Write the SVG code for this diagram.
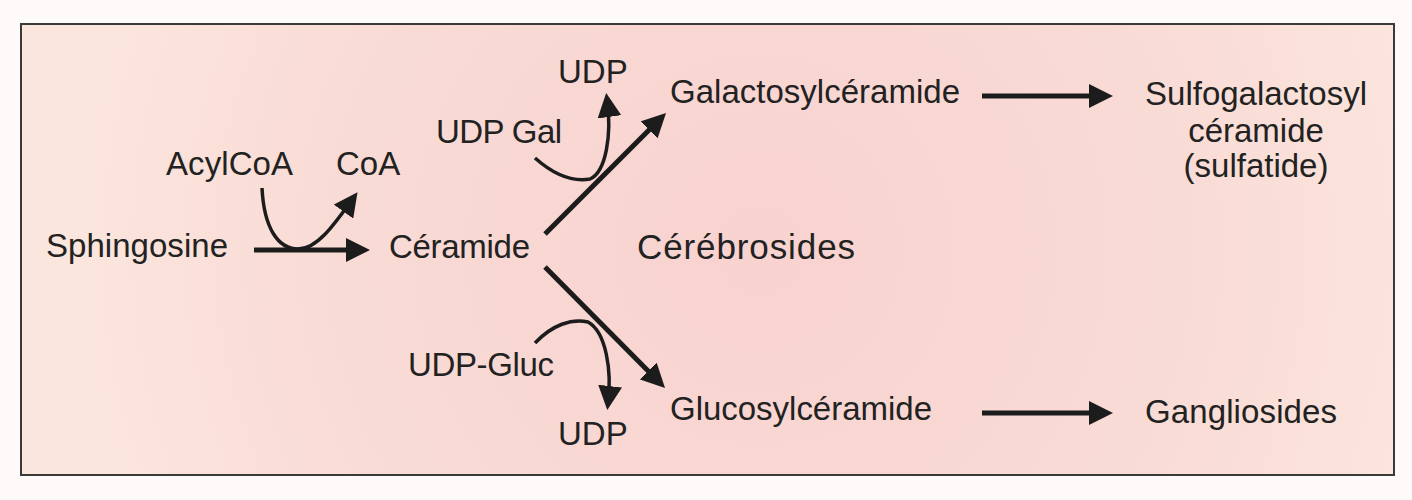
<svg xmlns="http://www.w3.org/2000/svg" width="1412" height="500" viewBox="0 0 1412 500">
<defs>
<radialGradient id="bg" cx="760" cy="250" r="700" gradientUnits="userSpaceOnUse">
<stop offset="0" stop-color="#f8d2cf"/>
<stop offset="0.6" stop-color="#f9dbd5"/>
<stop offset="1" stop-color="#fbe6dd"/>
</radialGradient>
<marker id="ah" viewBox="0 0 24 24" refX="18" refY="12" markerWidth="24" markerHeight="24" markerUnits="userSpaceOnUse" orient="auto">
<path d="M0,0 L24,12 L0,24 z" fill="#1c1c1c"/>
</marker>
</defs>
<style>
text{font-family:"Liberation Sans",Arial,Helvetica,sans-serif;font-size:33px;fill:#222}
.thick{fill:none;stroke:#1c1c1c;stroke-width:5}
.thin{fill:none;stroke:#1c1c1c;stroke-width:3.5}
.arr{marker-end:url(#ah)}
</style>
<rect x="0" y="0" width="1412" height="500" fill="#fefafa"/>
<rect x="21" y="24" width="1373" height="451" fill="url(#bg)" stroke="#3a3a3a" stroke-width="2"/>
<g id="connectors">
<path class="thick arr" d="M254,250 L364,250"/>
<path class="thin arr" d="M262,188 C264,228 278,249 298,249 C318,249 336,222 354,197"/>
<path class="thick arr" d="M545,234 L661.8,117.2"/>
<path class="thin arr" d="M535,158 C553,174 572,182 590,179 C606,172 612,135 607,99"/>
<path class="thick arr" d="M545,267 L660.8,383.8"/>
<path class="thin arr" d="M535,343 C552,325 572,318 588,322 C606,332 612,370 608,404"/>
<path class="thick arr" d="M982,96 L1107,96"/>
<path class="thick arr" d="M982,413 L1107,413"/>
</g>
<g id="sphingosine"><text x="46" y="257" textLength="182">Sphingosine</text></g>
<g id="acylcoa"><text x="166" y="175" textLength="127">AcylCoA</text></g>
<g id="coa"><text x="336" y="175">CoA</text></g>
<g id="ceramide"><text x="389" y="258" textLength="141">Céramide</text></g>
<g id="udp-top"><text x="558" y="83">UDP</text></g>
<g id="udp-gal"><text x="436" y="143" textLength="126">UDP Gal</text></g>
<g id="galactosylceramide"><text x="670" y="103" textLength="290">Galactosylcéramide</text></g>
<g id="cerebrosides"><text x="637" y="259" style="font-size:35px" textLength="218">Cérébrosides</text></g>
<g id="udp-gluc"><text x="408" y="376" textLength="146">UDP-Gluc</text></g>
<g id="udp-bottom"><text x="558" y="445">UDP</text></g>
<g id="glucosylceramide"><text x="670" y="420" textLength="262">Glucosylcéramide</text></g>
<g id="sulfatide">
<text x="1256" y="105" text-anchor="middle">Sulfogalactosyl</text>
<text x="1256" y="142" text-anchor="middle">céramide</text>
<text x="1256" y="177" text-anchor="middle">(sulfatide)</text>
</g>
<g id="gangliosides"><text x="1145" y="423" textLength="192">Gangliosides</text></g>
</svg>
